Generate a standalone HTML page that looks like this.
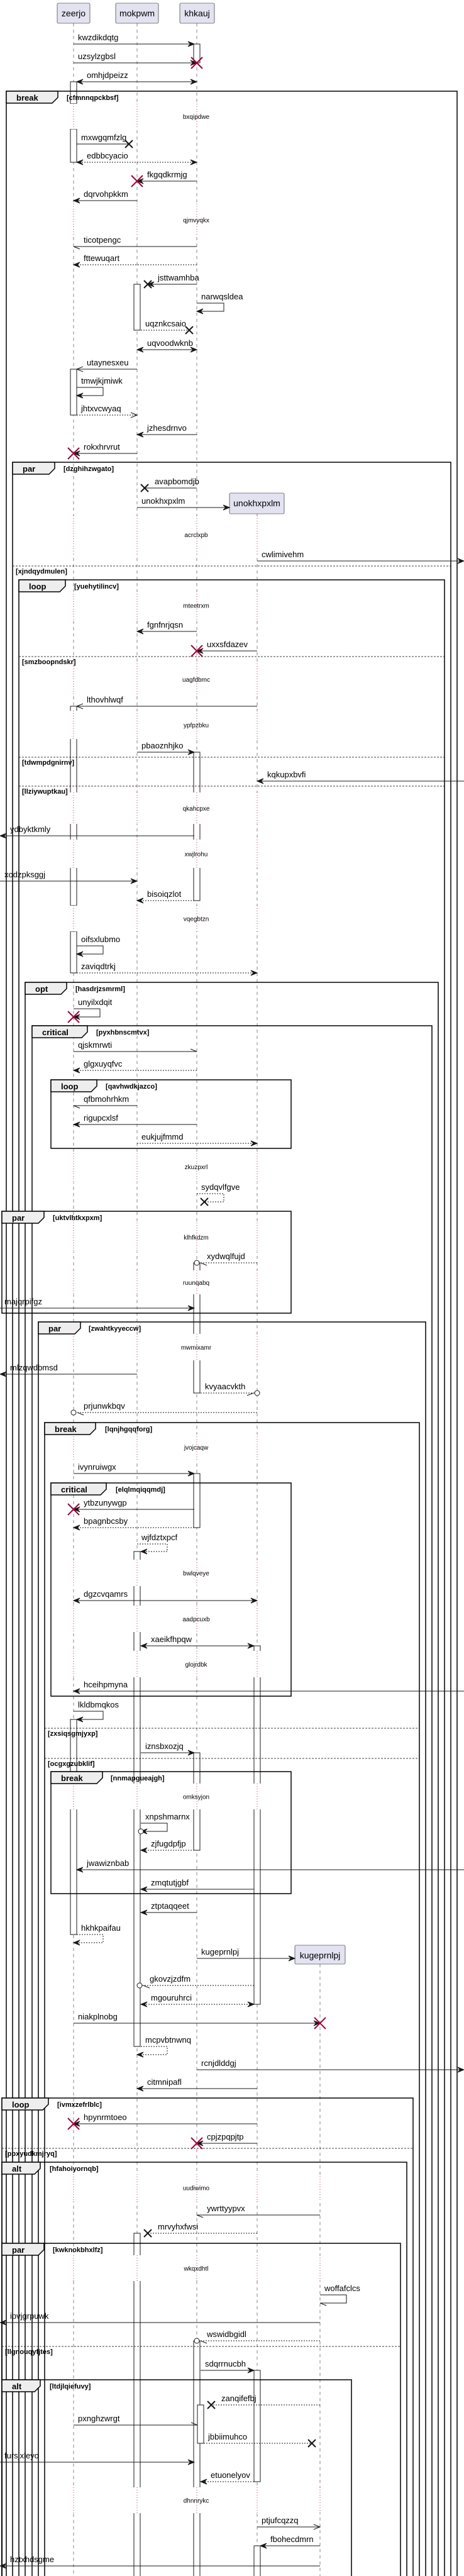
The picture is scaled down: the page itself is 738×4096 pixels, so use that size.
<!DOCTYPE html>
<html><head><meta charset="utf-8">
<style>
html,body{margin:0;padding:0;background:#fff;}
svg{display:block;}
text{font-family:"Liberation Sans",sans-serif;fill:#000;}
</style></head>
<body>
<svg id="s" xmlns="http://www.w3.org/2000/svg" width="738" height="4096" viewBox="0 0 738 4096"></svg>
<script>
const S=document.getElementById('s');const NS='http://www.w3.org/2000/svg';
function el(t,a,txt){const e=document.createElementNS(NS,t);for(const k in a)e.setAttribute(k,a[k]);if(txt!==undefined)e.textContent=txt;S.appendChild(e);return e;}
function ln(x1,y1,x2,y2,st){return el('line',Object.assign({x1,y1,x2,y2,stroke:'#181818','stroke-width':1},st||{}));}
function tx(x,y,t,sz,bold,anchor){const a={x,y,'font-size':sz||13};if(bold)a['font-weight']='bold';if(anchor)a['text-anchor']=anchor;return el('text',a,t);}
const A=117,B=218,C=313,D=409,E=509;
// participants
function part(x1,x2,y1,y2,t){el('rect',{x:x1,y:y1,width:x2-x1,height:y2-y1,rx:2,fill:'#E2E2F0',stroke:'#181818','stroke-width':0.6});tx((x1+x2)/2,y1+21,t,14,false,'middle');}
// lifelines
const dash={stroke:'#555','stroke-width':0.7,'stroke-dasharray':'5,5'};
ln(A,37,A,4096,dash);ln(B,37,B,4096,dash);ln(C,37,C,4096,dash);ln(D,817,D,4096,dash);ln(E,3123,E,4096,dash);
// activations
function act(x,y1,y2){el('rect',{x:x-5,y:y1,width:10,height:y2-y1,fill:'#fff',stroke:'#181818','stroke-width':1});}
[[A,130,165],[A,205,258],[A,587,660],[A,1123,1440],[A,1481,1547],[A,2734,3076],
 [C,70,100],[C,1196,1432],[C,2008,2215],[C,2343,2429],[C,2787,2942],[C,3722,4100],
 [B,452,525],[B,2467,3254],[B,3551,4100],
 [D,2617,3187],[D,3769,3946],[D,4048,4100]].forEach(a=>act(...a));
act(319,3824,3885);
// delays
const delays=[[165,205,'bxqipdwe'],[324,375,'qjmvyqkx'],[820,880,'acrclxpb'],[940,985,'mteetrxm'],[1055,1105,'uagfdbmc'],[1130,1175,'ypfpzbku'],[1260,1310,'qkahcpxe'],[1335,1380,'xwjlrohu'],[1440,1481,'vqegbtzn'],[1830,1880,'zkuzpxrl'],[1944,1990,'klhfkdzm'],[2020,2058,'ruunqabq'],[2121,2163,'mwmixamr'],[2280,2322,'jvojcaqw'],[2480,2522,'bwlqveye'],[2553,2595,'aadpcuxb'],[2625,2667,'glojrdbk'],[2836,2877,'omksyjon'],[3457,3500,'uudiwimo'],[3586,3627,'wkqxdhtl'],[3955,3996,'dhnnrykc']];
delays.forEach(([y1,y2,t])=>{
 el('rect',{x:104,y:y1,width:418,height:y2-y1,fill:'#fff'});
 const ls=[A,B,C];if(y1>817)ls.push(D);if(y1>3123)ls.push(E);
 ls.forEach(x=>ln(x,y1,x,y2,{stroke:'#A80036','stroke-width':0.8,'stroke-dasharray':'1,3'}));
});
part(91,143,5,37,'zeerjo');part(184,252,5,37,'mokpwm');part(286,341,5,37,'khkauj');
part(365,452,784,817,'unokhxpxlm');part(469,549,3093,3123,'kugeprnlpj');
// frames
function fr(x1,x2,y1,y2,tr,lab,cond,cx){
 el('rect',{x:x1,y:y1,width:x2-x1,height:y2-y1,fill:'none',stroke:'#000','stroke-width':1.5});
 el('polygon',{points:`${x1},${y1} ${tr},${y1} ${tr},${y1+10} ${tr-9},${y1+19} ${x1},${y1+19}`,fill:'#EEEEEE',stroke:'#000','stroke-width':1.5});
 tx(x1+(lab.length>5?16:16),y1+15,lab,13,true);tx(cx,y1+14,cond,11,true);
}
[[10,727,145,4110,92,'break','[cfmnnqpckbsf]',106],[20,717,735,4110,87,'par','[dzghihzwgato]',101],[30,707,922,4110,104,'loop','[yuehytilincv]',118],[40,697,1562,4110,106,'opt','[hasdrjzsmrml]',120],[51,687,1631,4110,139,'critical','[pyxhbnscmtvx]',153],[81,463,1717,1826,154,'loop','[qavhwdkjazco]',168],[3,463,1926,2088,70,'par','[uktvlhtkxpxm]',84],[61,677,2102,4110,128,'par','[zwahtkyyeccw]',141],[71,667,2262,4110,152,'break','[lqnjhgqqforg]',167],[81,463,2358,2697,169,'critical','[elqlmqiqqmdj]',184],[81,463,2817,3011,163,'break','[nnmapgueajgh]',176],[3,657,3336,4110,77,'loop','[ivmxzefrlblc]',91],[3,647,3438,4110,64,'alt','[hfahoiyornqb]',79],[3,637,3567,4110,70,'par','[kwknokbhxlfz]',84],[3,559,3784,4110,64,'alt','[ltdjlqiefuvy]',79]].forEach(f=>fr(...f));
[[20,717,900,'[xjndqydmulen]'],[30,707,1044,'[smzboopndskr]'],[30,707,1204,'[tdwmpdgnirnv]'],[30,707,1250,'[llziywuptkau]'],[71,667,2748,'[zxsiqsgmjyxp]'],[71,667,2796,'[ocgxgzubklif]'],[3,657,3416,'[ppxyudkmjryq]'],[3,637,3731,'[llgnouqyfjtes]']].forEach(([x1,x2,y,t])=>{ln(x1,y,x2,y,{stroke:'#000','stroke-width':0.8,'stroke-dasharray':'3,2'});tx(x1+5,y+12,t,11,true);});
delays.forEach(([y1,y2,t])=>tx(312,(y1+y2)/2+4,t,10,false,'middle'));
// arrows
function head(tx_,y,dir,o){
 if(o.includes('f')) el('polygon',{points:`${tx_},${y} ${tx_-dir*10},${y-4} ${tx_-dir*6},${y} ${tx_-dir*10},${y+4}`,fill:'#181818',stroke:'#181818','stroke-width':1});
 if(o.includes('o')) el('polyline',{points:`${tx_-dir*10},${y-4} ${tx_},${y} ${tx_-dir*10},${y+4}`,fill:'none',stroke:'#181818','stroke-width':1});
 const t2=o.includes('c')?tx_-dir*6:tx_;
 if(o.includes('u')) ln(t2-dir*10,y-4,t2,y);
 if(o.includes('l')) ln(t2-dir*10,y+4,t2,y);
 if(o.includes('c')) el('circle',{cx:tx_,cy:y,r:4,fill:'#fff',stroke:'#181818','stroke-width':1});
 if(o.includes('X')){ln(tx_-9,y-9,tx_+9,y+9,{stroke:'#A80036','stroke-width':2});ln(tx_-9,y+9,tx_+9,y-9,{stroke:'#A80036','stroke-width':2});}
 if(o.includes('x')){ln(tx_-6,y-6,tx_+6,y+6,{'stroke-width':2});ln(tx_-6,y+6,tx_+6,y-6,{'stroke-width':2});}
}
function m(y,x1,x2,t,o){
 const dir=x2>x1?1:-1;const st=o.includes('d')?{'stroke-dasharray':'2,2'}:{};
 ln(x1,y,x2,y,st);
 if(o.includes('b')) head(x1,y,-dir,'f');
 head(x2,y,dir,o.replace('b','f').replace('d',''));
 const lx=Math.min(x1,x2)+(dir<0||o.includes('b')?16:7);
 tx(lx,y-6,t,13);
}
function sm(y1,y2,xs,xr,t,o,xe){
 if(xe===undefined)xe=xs;const st=o.includes('d')?{'stroke-dasharray':'2,2'}:{};
 el('polyline',Object.assign({points:`${xs},${y1} ${xr},${y1} ${xr},${y2} ${xe},${y2}`,fill:'none',stroke:'#181818','stroke-width':1},st));
 head(xe,y2,-1,o.replace('d',''));tx(xs+7,y1-6,t,13);
}
m(70,A,309,'kwzdikdqtg','f');m(100,A,C,'uzsylzgbsl','fX');m(130,122,C,'omhjdpeizz','b');
m(229,122,205,'mxwgqmfzlg','x');m(258,122,C,'edbbcyacio','bd');m(288,C,B,'fkgqdkrmjg','fX');
m(319,B,A,'dqrvohpkkm','f');m(392,C,A,'ticotpengc','l');m(421,C,A,'fttewuqart','fd');
m(452,C,235,'jsttwamhba','fx');sm(482,495,C,356,'narwqsldea','f');m(525,224,301,'uqznkcsaio','xd');
m(556,B,C,'uqvoodwknb','b');m(587,B,122,'utaynesxeu','o');sm(616,629,122,164,'tmwjkjmiwk','f');
m(660,122,B,'jhtxvcwyaq','od');m(691,C,B,'jzhesdrnvo','f');
m(721,B,A,'rokxhrvrut','fX');m(776,C,230,'avapbomdjb','x');m(807,B,365,'unokhxpxlm','f');
m(892,D,738,'cwlimivehm','f');m(1004,C,B,'fgnfnrjqsn','f');m(1035,D,C,'uxxsfdazev','fX');
m(1123,D,122,'lthovhlwqf','o');m(1196,B,309,'pbaoznhjko','f');m(1242,738,D,'kqkupxbvfi','f');
m(1329,309,0,'ydbyktkmly','f');m(1401,0,B,'xodzpksggj','f');
m(1432,309,B,'bisoiqzlot','fd');sm(1504,1517,122,164,'oifsxlubmo','f');m(1547,122,D,'zaviqdtrkj','fd');
sm(1604,1617,A,159,'unyilxdqit','fX');m(1672,A,C,'qjskmrwti','u');m(1702,C,A,'glgxuyqfvc','fd');
m(1758,B,A,'qfbmohrhkm','l');m(1788,C,A,'rigupcxlsf','f');m(1818,B,D,'eukjujfmmd','fd');
sm(1898,1911,C,356,'sydqvlfgve','xd',325);m(2008,D,C,'xydwqlfujd','cld');m(2080,0,309,'majqrpifgz','f');
m(2185,B,0,'mlzqwdbmsd','f');m(2215,319,D,'kvyaacvkth','cld');m(2246,D,A,'prjunwkbqv','cld');
m(2343,A,309,'ivynruiwgx','f');m(2400,309,A,'ytbzunywgp','fX');m(2429,309,A,'bpagnbcsby','fd');
sm(2455,2467,B,266,'wjfdztxpcf','fd',224);m(2545,A,D,'dgzcvqamrs','b');m(2617,224,404,'xaeikfhpqw','b');
m(2689,738,A,'hceihpmyna','f');sm(2721,2734,A,164,'lkldbmqkos','f',122);m(2787,224,309,'iznsbxozjq','f');
sm(2899,2912,224,266,'xnpshmarnx','fc',224);m(2942,309,224,'zjfugdpfjp','fd');m(2973,738,122,'jwawiznbab','f');
m(3004,404,224,'zmqtutjgbf','f');m(3041,C,224,'ztptaqqeet','f');sm(3076,3089,122,164,'hkhkpaifau','fd',A);
m(3114,C,469,'kugeprnlpj','f');m(3157,404,222,'gkovzjzdfm','cld');m(3187,224,404,'mgouruhrci','bd');
m(3217,A,E,'niakplnobg','fX');sm(3254,3267,224,266,'mcpvbtnwnq','fd',B);m(3291,C,738,'rcnjdlddgj','f');
m(3321,D,B,'citmnipafl','f');m(3377,D,A,'hpynrmtoeo','fX');m(3408,D,C,'cpjzpqpjtp','fX');
m(3522,E,C,'ywrttyypvx','l');m(3551,D,235,'mrvyhxfwsi','xd');sm(3649,3662,E,551,'woffafclcs','l');
m(3693,E,0,'ipvjgrpuwk','f');m(3722,E,C,'wswidbgidl','cld');m(3769,319,404,'sdqrrnucbh','f');
m(3824,E,336,'zanqifefbj','xd');m(3856,A,314,'pxnghzwrgt','u');m(3885,324,496,'jbbiimuhco','xd');
m(3915,0,309,'fursjxleyo','f');m(3946,404,319,'etuonelyov','fd');m(4018,D,E,'ptjufcqzzq','o');
m(4048,E,414,'fbohecdmrn','f');m(4080,E,0,'hztxhdsgme','f');
</script>
</body></html>
